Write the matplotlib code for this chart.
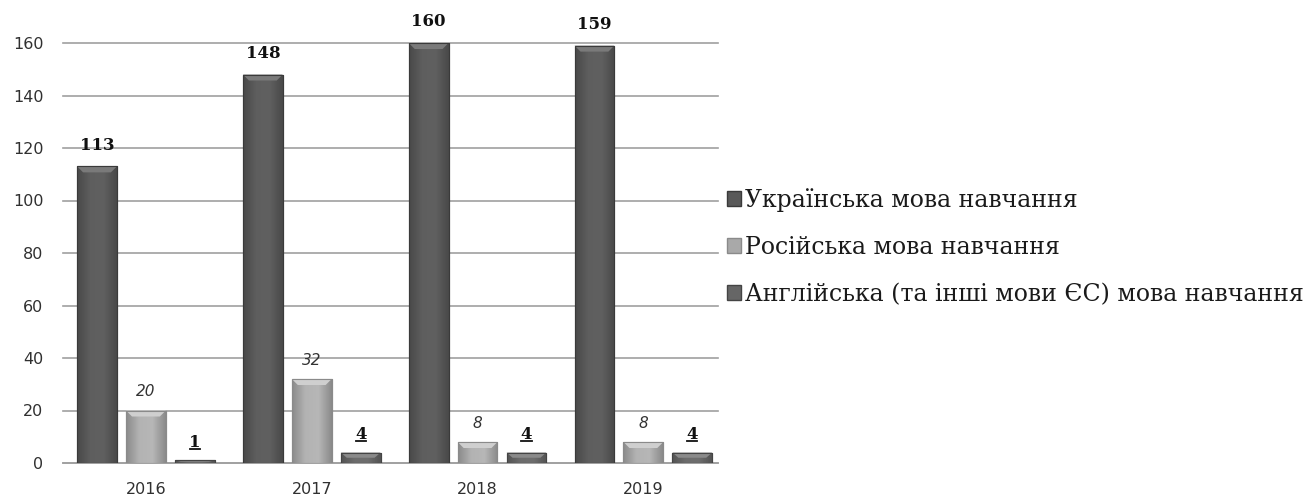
import matplotlib
matplotlib.use("Agg")
import matplotlib.pyplot as plt
import numpy as np
from matplotlib.patches import Patch, Polygon
from matplotlib.colors import LinearSegmentedColormap, to_rgb

years = ["2016", "2017", "2018", "2019"]
series_names = ["Українська мова навчання",
                "Російська мова навчання",
                "Англійська (та інші мови ЄС) мова навчання"]
ukr = [113, 148, 160, 159]
rus = [20, 32, 8, 8]
eng = [1, 4, 4, 4]

colors = ["#595959", "#a9a9a9", "#666666"]
edges = ["#3a3a3a", "#8a8a8a", "#444444"]
tops = ["#7a7a7a", "#cfcfcf", "#8a8a8a"]

W, H = 1308, 499
fig = plt.figure(figsize=(W / 100, H / 100), dpi=100)
ax = fig.add_axes([63 / W, 1 - 463 / H, (718 - 63) / W, (463 - 43) / H])
ax.set_xlim(-0.5, 3.45)
ax.set_ylim(0, 160)

x = np.arange(len(years))
bw = 0.24
step = 0.295
data = [ukr, rus, eng]

px_x = 1.0 / ((718 - 63) / 3.95)   # data units per pixel (x)
px_y = 160.0 / 420.0                # data units per pixel (y)


def shade(c, f):
    r = np.array(to_rgb(c))
    return tuple(np.clip(r * f, 0, 1))


for i, (vals, c, e, tp) in enumerate(zip(data, colors, edges, tops)):
    bars = ax.bar(x + (i - 1) * step, vals, width=bw, color=c, edgecolor=e, linewidth=0.8,
                  zorder=3, label=series_names[i])
    cmap = LinearSegmentedColormap.from_list(
        "g%d" % i, [shade(c, 0.82), shade(c, 1.06), shade(c, 1.08), shade(c, 0.82)])
    grad = np.linspace(0, 1, 64).reshape(1, -1)
    for b in bars:
        x0, h, w = b.get_x(), b.get_height(), b.get_width()
        im = ax.imshow(grad, extent=[x0, x0 + w, 0, h], cmap=cmap, aspect="auto",
                       zorder=3.1, interpolation="bilinear")
        im.set_clip_path(b)
        bev = min(6 * px_y, h * 0.5)
        ins = 6 * px_x
        poly = Polygon([[x0, h], [x0 + w, h], [x0 + w - ins, h - bev], [x0 + ins, h - bev]],
                       closed=True, facecolor=tp, edgecolor="none", zorder=3.2)
        ax.add_patch(poly)
        ax.add_patch(Polygon([[x0, 0], [x0 + w, 0], [x0 + w, h], [x0, h]], closed=True,
                             facecolor="none", edgecolor=e, lw=0.8, zorder=3.3))

ax.set_xlim(-0.5, 3.45)
ax.set_ylim(0, 160)

serif = "DejaVu Serif"
for xi, v in zip(x, ukr):
    ax.annotate(str(v), (xi - step, v), xytext=(0, 9), textcoords="offset points",
                ha="center", va="bottom", fontsize=12, fontweight="bold",
                family=serif, color="#111111", annotation_clip=False)
for xi, v in zip(x, rus):
    ax.annotate(str(v), (xi, v), xytext=(0, 8), textcoords="offset points",
                ha="center", va="bottom", fontsize=11, fontstyle="italic",
                color="#333333", annotation_clip=False)
for xi, v in zip(x, eng):
    ax.annotate(str(v), (xi + step, v), xytext=(0, 7), textcoords="offset points",
                ha="center", va="bottom", fontsize=12, fontweight="bold",
                family=serif, color="#111111", annotation_clip=False)

ax.set_yticks(range(0, 161, 20))
ax.set_xticks(x)
ax.set_xticklabels(years)
ax.yaxis.grid(True, color="#a0a0a0", lw=1.2, zorder=0)
for gl in ax.get_ygridlines():
    gl.set_clip_on(False)
ax.set_axisbelow(True)
for s in ["top", "right", "left"]:
    ax.spines[s].set_visible(False)
ax.spines["bottom"].set_color("#a0a0a0")
ax.spines["bottom"].set_linewidth(1.2)
ax.tick_params(axis="both", length=0, labelsize=11.5, colors="#303030")
ax.tick_params(axis="y", pad=14)
ax.tick_params(axis="x", pad=14)

handles = [Patch(facecolor=c, edgecolor=e) for c, e in zip(colors, edges)]
leg = fig.legend(handles, series_names, loc="center left",
                 bbox_to_anchor=(727 / W, 1 - 247 / H), frameon=False,
                 prop={"family": serif, "size": 17}, handlelength=0.58,
                 handleheight=0.58, handletextpad=0.2, labelspacing=1.02,
                 borderaxespad=0, borderpad=0)
for txt in leg.get_texts():
    txt.set_color("#1a1a1a")

# underline English value labels
fig.canvas.draw()
renderer = fig.canvas.get_renderer()
inv = fig.transFigure.inverted()
for t in ax.texts:
    if t.get_text() in [str(v) for v in eng] and t.get_fontweight() in ("bold", 700):
        bb = t.get_window_extent(renderer)
        (x0, y0), (x1, _) = inv.transform([[bb.x0, bb.y0], [bb.x1, bb.y0]])
        fig.add_artist(plt.Line2D([x0 + 0.0005, x1 - 0.0005], [y0 + 0.003, y0 + 0.003],
                                  color="#111111", lw=1.3, transform=fig.transFigure))

fig.savefig("out.png", dpi=100)
